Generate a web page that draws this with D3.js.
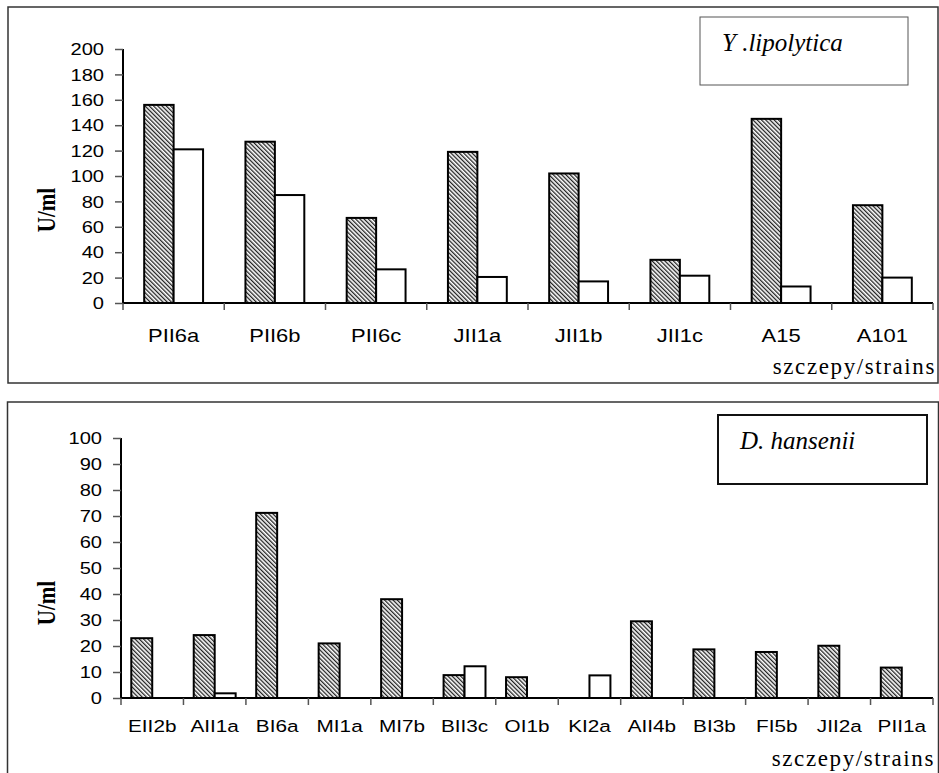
<!DOCTYPE html>
<html>
<head>
<meta charset="utf-8">
<script src="https://cdn.jsdelivr.net/npm/d3@7"></script>
<style>
  body { margin: 0; background: #fff; }
  svg { display: block; }
  .tick text { font-family: "Liberation Sans", Arial, sans-serif; fill: #000; }
</style>
</head>
<body>
<svg id="chart" width="939" height="773"></svg>
<script>
// top panel - Y. lipolytica
const strainsTop = ["PII6a", "PII6b", "PII6c", "JII1a", "JII1b", "JII1c", "A15", "A101"];
const hatchedTop = [156, 127, 67, 119, 102, 34, 145, 77];
const whiteTop   = [121, 85, 26.5, 20.5, 17, 21.5, 13, 20];
const ticksTop   = [0, 20, 40, 60, 80, 100, 120, 140, 160, 180, 200];

// bottom panel - D. hansenii
const strainsBottom = ["EII2b", "AII1a", "BI6a", "MI1a", "MI7b", "BII3c", "OI1b", "KI2a", "AII4b", "BI3b", "FI5b", "JII2a", "PII1a"];
const hatchedBottom = [23, 24.2, 71.2, 21, 38, 8.8, 8, 0, 29.5, 18.7, 17.7, 20.1, 11.7];
const whiteBottom   = [0, 1.8, 0, 0, 0, 12.2, 0, 8.7, 0, 0, 0, 0, 0];
const ticksBottom   = [0, 10, 20, 30, 40, 50, 60, 70, 80, 90, 100];

const svg = d3.select("#chart");
const sx = 1.22; // the original figure is stretched sideways

const defs = svg.append("defs");
defs.append("pattern")
  .attr("id", "hatch")
  .attr("patternUnits", "userSpaceOnUse")
  .attr("width", 3).attr("height", 3)
  .attr("patternTransform", "rotate(-45)")
  .call(p => {
    p.append("rect").attr("width", 3).attr("height", 3).attr("fill", "#fff");
    p.append("rect").attr("width", 1.3).attr("height", 3).attr("fill", "#222");
  });

function panel(cfg){
  const g = svg.append("g");

  g.append("rect")
    .attr("x", cfg.frame[0]).attr("y", cfg.frame[1])
    .attr("width", cfg.frame[2]).attr("height", cfg.frame[3])
    .attr("fill", "none").attr("stroke", "#333").attr("stroke-width", 1.5);

  const x = d3.scaleBand().domain(cfg.cats).range([cfg.x0, cfg.x1]);
  const inner = d3.scaleBand().domain(["h", "w"]).range([0, x.bandwidth()]).paddingOuter(cfg.pad);
  const y = d3.scaleLinear().domain([0, cfg.max]).range([cfg.y0, cfg.yTop]);

  const rows = cfg.cats.map((c, i) => ({c: c, h: cfg.hatched[i], w: cfg.white[i]}));

  // bars
  const grp = g.append("g");
  grp.selectAll(".bh")
    .data(rows.filter(d => d.h > 0))
    .enter().append("rect")
    .attr("x", d => x(d.c) + inner("h"))
    .attr("y", d => y(d.h))
    .attr("width", inner.bandwidth())
    .attr("height", d => y(0) - y(d.h))
    .attr("fill", "url(#hatch)")
    .attr("stroke", "#000").attr("stroke-width", 2);

  grp.selectAll(".bw")
    .data(rows.filter(d => d.w > 0))
    .enter().append("rect")
    .attr("x", d => x(d.c) + inner("w"))
    .attr("y", d => y(d.w))
    .attr("width", inner.bandwidth())
    .attr("height", d => y(0) - y(d.w))
    .attr("fill", "#fff")
    .attr("stroke", "#000").attr("stroke-width", 2);

  // y axis
  const ya = g.append("g")
    .attr("transform", "translate(" + cfg.x0 + ",0)")
    .call(d3.axisLeft(y).tickValues(cfg.ticks).tickSize(8).tickPadding(0));
  ya.select(".domain").attr("stroke", "#000").attr("stroke-width", 2).attr("d", "M0," + y(0) + "V" + y(cfg.max));
  ya.selectAll(".tick line").attr("stroke", "#555").attr("stroke-width", 1.5);
  ya.selectAll(".tick text")
    .attr("font-size", 16.5)
    .attr("x", -19 / sx)
    .attr("dy", "0.35em")
    .attr("transform", "scale(" + sx + ",1)");

  // x axis: labels at band centres, ticks on band edges
  const xa = g.append("g")
    .attr("transform", "translate(0," + y(0) + ")")
    .call(d3.axisBottom(x).tickSize(0).tickPadding(0));
  xa.select(".domain").remove();
  xa.selectAll(".tick text")
    .attr("font-size", cfg.labelSize)
    .attr("y", cfg.labelY)
    .attr("dy", 0)
    .attr("transform", "scale(" + sx + ",1)");

  xa.append("line")
    .attr("x1", cfg.x0).attr("x2", cfg.x1)
    .attr("stroke", "#000").attr("stroke-width", 2);
  xa.selectAll(".edge")
    .data(cfg.cats.map(c => x(c)).concat([cfg.x1]))
    .enter().append("line")
    .attr("x1", d => d).attr("x2", d => d)
    .attr("y1", 0).attr("y2", 7)
    .attr("stroke", "#555").attr("stroke-width", 1.5);

  // y label
  g.append("text")
    .attr("transform", "translate(" + cfg.ylab[0] + "," + cfg.ylab[1] + ") scale(1.15,1) rotate(-90)")
    .attr("text-anchor", "middle")
    .attr("font-family", "Liberation Serif, Times New Roman, serif")
    .attr("font-weight", "bold")
    .attr("font-size", 21)
    .text("U/ml");

  // x title
  g.append("text")
    .attr("x", cfg.xtitle[0]).attr("y", cfg.xtitle[1])
    .attr("text-anchor", "end")
    .attr("font-family", "Liberation Serif, Times New Roman, serif")
    .attr("font-size", 23)
    .attr("letter-spacing", 1.6)
    .text("szczepy/strains");

  // species box
  g.append("rect")
    .attr("x", cfg.box[0]).attr("y", cfg.box[1])
    .attr("width", cfg.box[2]).attr("height", cfg.box[3])
    .attr("fill", "#fff").attr("stroke", cfg.boxStroke[0]).attr("stroke-width", cfg.boxStroke[1]);
  g.append("text")
    .attr("x", cfg.box[0] + 22).attr("y", cfg.box[1] + 34)
    .attr("font-family", "Liberation Serif, Times New Roman, serif")
    .attr("font-style", "italic")
    .attr("font-size", 25)
    .text(cfg.species);
}

panel({
  cats: strainsTop, hatched: hatchedTop, white: whiteTop, ticks: ticksTop, max: 200,
  frame: [8, 7, 930, 376],
  x0: 123, x1: 933, y0: 303, yTop: 49, pad: 0.72,
  labelSize: 18, labelY: 39,
  ylab: [55, 210], xtitle: [936, 374],
  box: [700, 17, 208, 68], boxStroke: ["#555", 1],
  species: "Y .lipolytica"
});

panel({
  cats: strainsBottom, hatched: hatchedBottom, white: whiteBottom, ticks: ticksBottom, max: 100,
  frame: [7.5, 402, 931, 390],
  x0: 121, x1: 933, y0: 698, yTop: 438, pad: 0.49,
  labelSize: 17, labelY: 34,
  ylab: [55, 603], xtitle: [935, 766],
  box: [718, 415, 209, 69], boxStroke: ["#111", 2],
  species: "D. hansenii"
});
</script>
</body>
</html>
